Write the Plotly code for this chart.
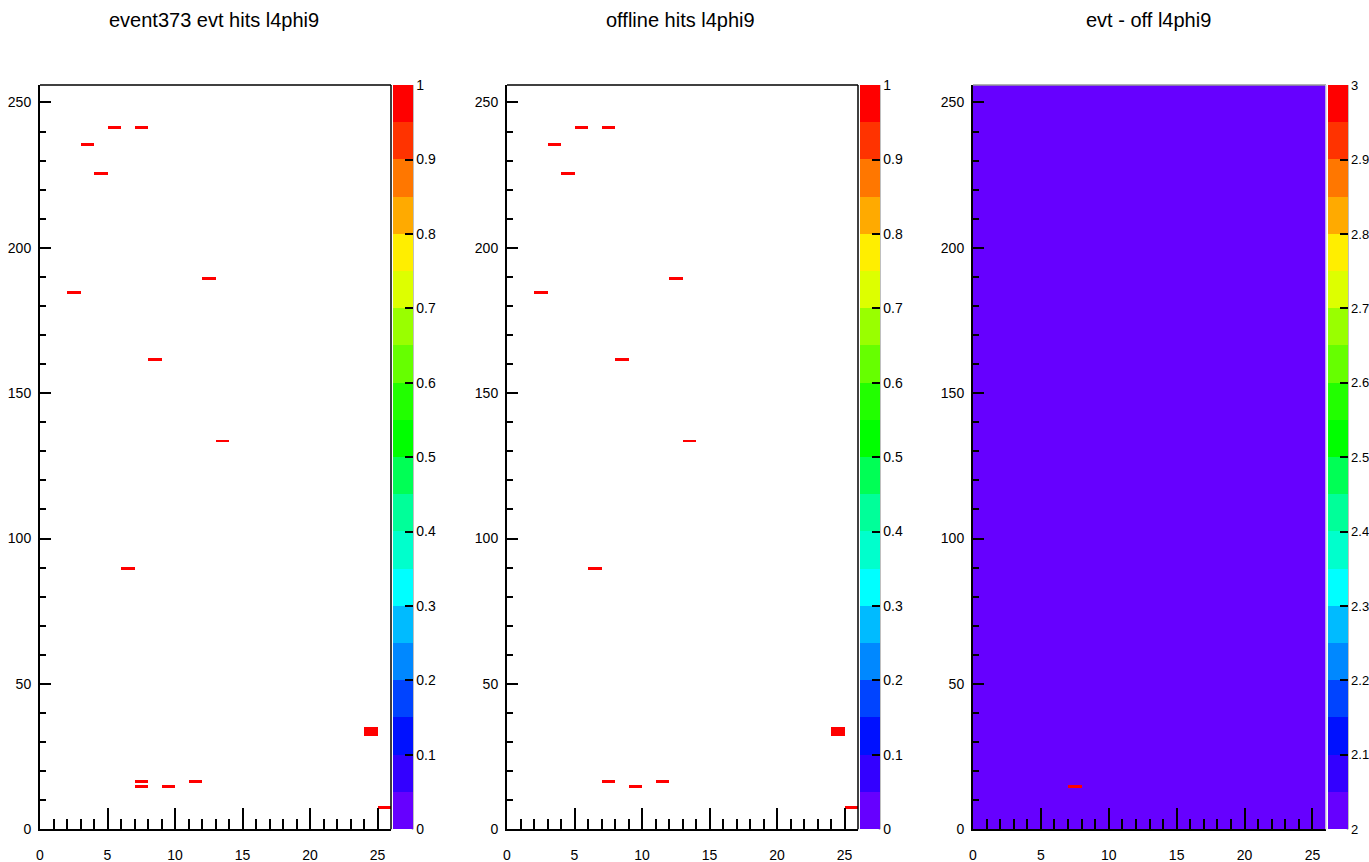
import numpy as np
import plotly.graph_objects as go

# ---------------- data ----------------
NX = 26   # x bins 0..26
NY = 256  # y bins 0..256

# hit cells (x bin, y bin) for the event hits
evt_x = [5, 7, 3, 4, 2, 12, 8, 13, 6, 7, 7, 9, 11, 24, 24, 24, 25]
evt_y = [241, 241, 235, 225, 184, 189, 161, 133, 89, 16, 14, 14, 16, 32, 33, 34, 7]
# hit cells for the offline hits
off_x = [5, 7, 3, 4, 2, 12, 8, 13, 6, 7, 9, 11, 24, 24, 24, 25]
off_y = [241, 241, 235, 225, 184, 189, 161, 133, 89, 16, 14, 16, 32, 33, 34, 7]
diff_offset = 2  # baseline level shown in the difference panel

titles = ["event373 evt hits l4phi9", "offline hits l4phi9", "evt - off l4phi9"]
cb_vals_hits = [0, 0.1, 0.2, 0.3, 0.4, 0.5, 0.6, 0.7, 0.8, 0.9, 1]
cb_text_hits = ["0", "0.1", "0.2", "0.3", "0.4", "0.5", "0.6", "0.7", "0.8", "0.9", "1"]
cb_vals_diff = [2, 2.1, 2.2, 2.3, 2.4, 2.5, 2.6, 2.7, 2.8, 2.9, 3]
cb_text_diff = ["2", "2.1", "2.2", "2.3", "2.4", "2.5", "2.6", "2.7", "2.8", "2.9", "3"]

palette = ["#6600ff", "#3300ff", "#0011ff", "#0044ff", "#0088ff", "#00bbff", "#00ffff",
           "#00ffcc", "#00ff99", "#00ff55", "#00ff00", "#22ff00", "#66ff00", "#99ff00",
           "#ddff00", "#ffee00", "#ffaa00", "#ff7700", "#ff3300", "#ff0000"]

# ---------------- build ----------------
def hist(xs, ys):
    h = np.zeros((NY, NX))
    for x, y in zip(xs, ys):
        h[y, x] += 1
    return h

evt_h = hist(evt_x, evt_y)
off_h = hist(off_x, off_y)
diff_h = evt_h - off_h + diff_offset

def masked(h):
    return [[(v if v > 0 else None) for v in row] for row in h]

n = len(palette)
cscale = []
for i, c in enumerate(palette):
    cscale.append([i / n, c])
    cscale.append([(i + 1) / n, c])

W, H = 1369, 862
def px(p):  # page x pixel -> paper fraction
    return p / W
def py(p):  # page y pixel -> paper fraction
    return 1 - p / H

frames = [(40, 391), (507, 858), (973, 1326)]
ytop, ybot = 85, 829.3
yd = [py(ybot), py(ytop)]
title_cx = [214, 680, 1148]
cb_font = [14, 14, 13]

xc = np.arange(NX) + 0.5
yc = np.arange(NY) + 0.5

zs = [masked(evt_h), masked(off_h), diff_h.tolist()]
zr = [(0, 1), (0, 1), (2, 3)]
cbv = [(cb_vals_hits, cb_text_hits), (cb_vals_hits, cb_text_hits), (cb_vals_diff, cb_text_diff)]

fig = go.Figure()
FONT = "Liberation Sans, Arial, Helvetica, sans-serif"

for i in range(3):
    sfx = "" if i == 0 else str(i + 1)
    fl, fr = frames[i]
    fig.add_trace(go.Heatmap(
        x=xc, y=yc, z=zs[i], zmin=zr[i][0], zmax=zr[i][1],
        colorscale=cscale, zsmooth=False, hoverongaps=False,
        xaxis="x" + sfx, yaxis="y" + sfx,
        colorbar=dict(
            x=px(fr + 1.5), xanchor="left", xref="paper", xpad=0, ypad=0,
            y=(yd[0] + yd[1]) / 2, yanchor="middle", len=yd[1] - yd[0], lenmode="fraction",
            thickness=20, thicknessmode="pixels", outlinewidth=0,
            ticks="inside", ticklen=8, tickwidth=1.5, tickcolor="black",
            tickvals=cbv[i][0], ticktext=cbv[i][1],
            tickfont=dict(size=cb_font[i], color="black", family=FONT),
        ),
    ))
    fig.layout["xaxis" + sfx] = dict(
        domain=[px(fl), px(fr)], anchor="y" + sfx, range=[0, NX], automargin=False,
        tick0=0, dtick=5, ticks="inside", ticklen=21, tickwidth=1.5, tickcolor="black",
        minor=dict(dtick=1, ticks="inside", ticklen=10, tickwidth=1.5, tickcolor="black"),
        showline=True, linecolor="black", linewidth=2, mirror=False,
        showgrid=False, zeroline=False, ticklabelstandoff=12,
        tickfont=dict(size=14, color="black", family=FONT), fixedrange=True,
    )
    fig.layout["yaxis" + sfx] = dict(
        domain=yd, anchor="x" + sfx, range=[0, NY], automargin=False,
        tick0=0, dtick=50, ticks="inside", ticklen=11, tickwidth=1.5, tickcolor="black",
        minor=dict(dtick=10, ticks="inside", ticklen=6, tickwidth=1.5, tickcolor="black"),
        showline=True, linecolor="black", linewidth=2, mirror=False,
        showgrid=False, zeroline=False, ticklabelstandoff=4,
        tickfont=dict(size=14, color="black", family=FONT), fixedrange=True,
    )
    # frame (top/right)
    fcol = "black" if i < 2 else "#999999"
    rcol = "black" if i < 2 else "#dddddd"
    fig.add_shape(type="line", xref="x" + sfx + " domain", yref="y" + sfx + " domain",
                  x0=0, x1=1, y0=1, y1=1, line=dict(color=fcol, width=1.5), layer="above")
    fig.add_shape(type="line", xref="x" + sfx + " domain", yref="y" + sfx + " domain",
                  x0=1, x1=1, y0=0, y1=1, line=dict(color=rcol, width=1.5), layer="above")
    # colorbar right axis line
    cbr = px(fr + 1.5 + 20)
    fig.add_shape(type="line", xref="paper", yref="paper", x0=cbr, x1=cbr, y0=yd[0], y1=yd[1],
                  line=dict(color="black", width=1.5), layer="above")
    fig.add_annotation(text=titles[i], xref="paper", yref="paper",
                       x=px(title_cx[i]), y=py(20), xanchor="center", yanchor="middle",
                       showarrow=False, font=dict(size=20, color="black", family=FONT))

fig.update_layout(
    width=W, height=H, margin=dict(l=0, r=0, t=0, b=0, pad=0, autoexpand=False),
    paper_bgcolor="white", plot_bgcolor="white", showlegend=False,
)

fig.write_html("out.html", config={"displayModeBar": False},
               post_script="document.body.style.margin='0';document.body.style.overflow='hidden';")
